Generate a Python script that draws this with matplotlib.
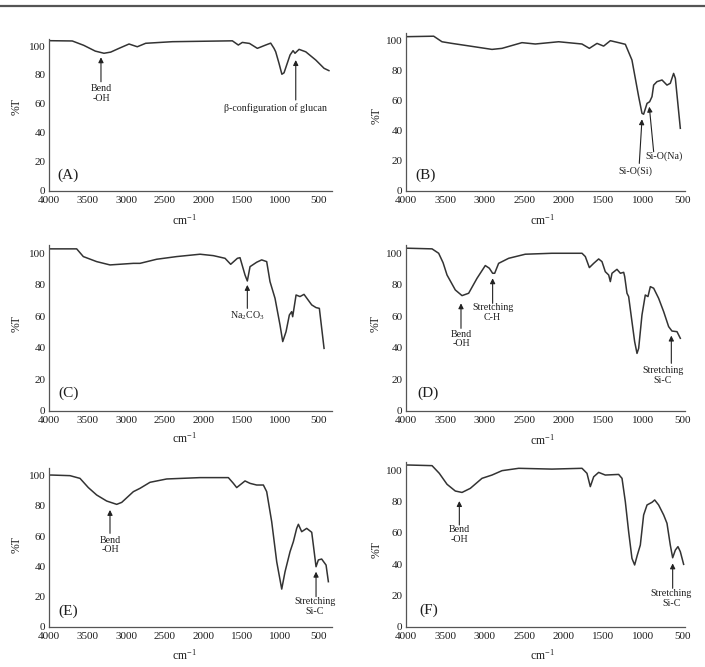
import matplotlib
matplotlib.use('Agg')
import matplotlib.pyplot as plt
from matplotlib.lines import Line2D

plt.rcParams['font.family'] = ['Liberation Serif', 'DejaVu Serif']
plt.rcParams['mathtext.fontset'] = 'custom'
plt.rcParams['mathtext.rm'] = 'Liberation Serif'
plt.rcParams['mathtext.it'] = 'Liberation Serif:italic'

# --- spectra (wavenumber cm-1, %T) ---
A_wn = [4000, 3698, 3550, 3400, 3287, 3200, 3092, 2962, 2855, 2746, 2400, 1622, 1545, 1493,
        1400, 1298, 1190, 1125, 1082, 1060, 1017, 980, 952, 874, 835, 810, 757, 670, 540, 433, 370]
A_T = [103.7, 103.5, 100.5, 96.5, 95, 95.8, 98.4, 101.4, 99.5, 101.9, 103, 103.6, 100.7, 102.5,
       101.8, 98.4, 100.7, 102, 98.4, 96, 88, 80.5, 81.5, 93.8, 96.8, 95, 97.7, 96, 90.3, 84.6, 83]

B_wn = [4000, 3975, 3649, 3544, 3417, 3200, 2910, 2783, 2530, 2361, 2065, 1770, 1676, 1579, 1495,
        1410, 1305, 1220, 1136, 1051, 1009, 988, 945, 912, 882, 861, 819, 755, 692, 650, 608, 586, 523]
B_T = [102.7, 102.7, 103, 99.3, 98.2, 96.5, 94.2, 94.9, 98.7, 97.8, 99.3, 97.8, 94.9, 98.2, 96.4,
       100, 98.7, 97.6, 87.1, 62.7, 51.6, 51, 58.2, 59.3, 62.7, 70.4, 72.7, 73.8, 70.4, 71.6, 78.2, 74.9, 41.6]

C_wn = [4000, 3978, 3641, 3555, 3382, 3209, 2906, 2820, 2604, 2344, 2041, 1869, 1717, 1644, 1557,
        1523, 1458, 1428, 1393, 1307, 1242, 1177, 1134, 1069, 1004, 969, 926, 883, 853, 840, 796,
        745, 693, 593, 537, 494, 433]
C_T = [102.8, 102.8, 102.8, 97.9, 94.7, 92.6, 93.6, 93.6, 96.2, 97.9, 99.4, 98.5, 96.8, 93, 96.8,
       97.2, 86.2, 82.4, 91.5, 94.3, 95.8, 94.7, 82, 71.4, 54.4, 43.9, 50.2, 60.8, 62.9, 59.7, 73.5,
       72.5, 73.9, 67.2, 65.5, 65, 39.6]

D_wn = [4000, 3975, 3670, 3586, 3530, 3480, 3375, 3290, 3206, 3100, 2995, 2944, 2902, 2876, 2826,
        2699, 2488, 2150, 1769, 1727, 1676, 1621, 1558, 1516, 1474, 1431, 1410, 1389, 1326, 1283,
        1241, 1228, 1199, 1178, 1136, 1102, 1072, 1051, 1009, 967, 933, 903, 861, 798, 734, 671,
        629, 565, 523]
D_T = [103.2, 103.2, 102.8, 100, 94, 86.2, 76.7, 73.1, 74.6, 84.1, 92.2, 90.5, 87.3, 87.3, 93.6,
       96.8, 99.4, 100, 100, 97.9, 90.9, 93.6, 96.4, 94.7, 88.3, 86.2, 82, 87.3, 89.8, 87.3,
       87.9, 85.2, 74.6, 72.5, 56.6, 43.9, 36.4, 39.6, 60.8, 73.5, 72.5, 78.8, 77.8, 71.4, 62.9, 53.4,
       50.6, 50.2, 46]

E_wn = [4000, 3965, 3728, 3598, 3490, 3382, 3252, 3122, 3057, 2906, 2820, 2690, 2474, 2041, 1674,
        1609, 1566, 1458, 1393, 1307, 1220, 1177, 1112, 1047, 982, 939, 874, 831, 788, 766, 723,
        658, 593, 572, 537, 507, 464, 407, 377]
E_T = [100.4, 100.4, 100, 98.2, 92.1, 87.2, 83.2, 81, 82.3, 89.4, 91.6, 95.6, 97.8, 98.7, 98.7,
       94.9, 92.1, 96.5, 94.9, 93.8, 93.8, 89.4, 69.5, 43, 24.9, 36.4, 49.7, 56.3, 65.1, 67.8, 62.9,
       65.1, 62.5, 54.1, 39.7, 44.2, 44.8, 40.8, 29.8]

F_wn = [4000, 3966, 3670, 3578, 3480, 3375, 3290, 3185, 3037, 2910, 2783, 2572, 2150, 1769, 1706,
        1664, 1621, 1558, 1474, 1305, 1262, 1220, 1178, 1136, 1102, 1068, 1030, 988, 945, 882, 848,
        798, 734, 692, 650, 620, 586, 553, 523, 481]
F_T = [103.2, 103.2, 102.8, 97.9, 90.9, 86.6, 85.7, 88.3, 94.7, 96.8, 99.6, 101.1, 100.6, 101.1, 97.9,
       89.4, 95.7, 98.5, 96.8, 97.2, 94.7, 79.8, 60.6, 43.6, 39.4, 45.7, 52.1, 71.3, 77.7, 79.4, 80.9,
       77.7, 71.3, 66, 52.1, 44, 48.9, 51.1, 47.9, 39.8]

x_ticks = [4000, 3500, 3000, 2500, 2000, 1500, 1000, 500]
y_ticks = [0, 20, 40, 60, 80, 100]
panel_names = ['(A)', '(B)', '(C)', '(D)', '(E)', '(F)']

# annotations: text, text pos, arrow tip, arrow tail
A_notes = [('Bend\n-OH', (3326, 67), (3326, 92.2), (3326, 75.3)),
           ('\u03b2-configuration of glucan', (1069, 57), (800, 90.3), (800, 62.7))]
B_notes = [('Si-O(Si)', (1094, 13.3), (1009, 47.6), (1043, 18.2)),
           ('Si-O(Na)', (734, 22.7), (916, 56), (861, 26))]
C_notes = [('Na$_2$CO$_3$', (1428, 60.4), (1428, 79.9), (1428, 65))]
D_notes = [('Bend\n-OH', (3303, 45.6), (3303, 68.2), (3303, 52.3)),
           ('Stretching\nC-H', (2902, 62.5), (2902, 84.1), (2902, 68.2)),
           ('Stretching\nSi-C', (747, 22.2), (637, 47.7), (637, 30.1))]
E_notes = [('Bend\n-OH', (3209, 54.1), (3209, 77.3), (3209, 61.8)),
           ('Stretching\nSi-C', (550, 13.2), (537, 36.4), (537, 19.9))]
F_notes = [('Bend\n-OH', (3324, 58.9), (3324, 80.2), (3324, 64.9)),
           ('Stretching\nSi-C', (637, 18.1), (620, 40.4), (620, 24.5))]

W, H = 705, 667
fig = plt.figure(figsize=(W / 100, H / 100), dpi=100)

# thin rule across the top of the page
fig.add_artist(Line2D([0, 1], [1 - 6 / H, 1 - 6 / H], color='#555555', lw=1.6))


def make_axes(left, right, top, bottom):
	# pixel box -> figure fraction
	return fig.add_axes([left / W, 1 - bottom / H, (right - left) / W, (bottom - top) / H])


def draw_panel(ax, wn, T, xmax, notes, name, name_pos, xlab_pos, ylab_pos):
	ax.plot(wn, T, color='#333333', lw=1.1)
	ax.set_xlim(4000, xmax)
	ax.set_ylim(0, 105)
	ax.set_xticks(x_ticks)
	ax.set_yticks(y_ticks)
	ax.tick_params(length=0, labelsize=8, colors='#1e1e1e')
	ax.tick_params(axis='x', pad=4)
	ax.tick_params(axis='y', pad=2.5)
	for s in ['top', 'right']:
		ax.spines[s].set_visible(False)
	for s in ['left', 'bottom']:
		ax.spines[s].set_color('#555555')
		ax.spines[s].set_linewidth(0.9)

	ax.set_xlabel('cm$^{-1}$', fontsize=8.5, color='#1e1e1e', va='center')
	ax.xaxis.set_label_coords(*xlab_pos)
	ax.set_ylabel('%T', fontsize=8.5, color='#1e1e1e', va='center')
	ax.yaxis.set_label_coords(*ylab_pos)

	ax.text(name_pos[0], name_pos[1], name, transform=ax.transAxes, fontsize=11,
		ha='center', va='center', color='#1e1e1e')

	for txt, tpos, tip, tail in notes:
		ax.annotate('', xy=tip, xytext=tail,
			arrowprops=dict(arrowstyle='-|>', color='#222222', lw=0.8,
				mutation_scale=7.5, shrinkA=0, shrinkB=0))
		ax.text(tpos[0], tpos[1], txt, fontsize=7.2, ha='center', va='center',
			color='#1e1e1e', linespacing=1.1)


axA = make_axes(49, 332, 38.8, 190.7)
axB = make_axes(406, 684.5, 33.2, 190.7)
axC = make_axes(49, 332, 245.4, 410.7)
axD = make_axes(406, 684.5, 245.4, 410.7)
axE = make_axes(49, 332, 468.1, 626.7)
axF = make_axes(406, 684.5, 462.2, 626.7)

draw_panel(axA, A_wn, A_T, 330, A_notes, panel_names[0], (0.067, 0.103), (0.48, -0.193), (-0.114, 0.553))
draw_panel(axB, B_wn, B_T, 470, B_notes, panel_names[1], (0.072, 0.10), (0.49, -0.186), (-0.104, 0.48))
draw_panel(axC, C_wn, C_T, 330, C_notes, panel_names[2], (0.068, 0.105), (0.48, -0.165), (-0.114, 0.53))
draw_panel(axD, D_wn, D_T, 470, D_notes, panel_names[3], (0.079, 0.105), (0.49, -0.177), (-0.108, 0.53))
draw_panel(axE, E_wn, E_T, 330, E_notes, panel_names[4], (0.068, 0.10), (0.48, -0.183), (-0.114, 0.515))
draw_panel(axF, F_wn, F_T, 470, F_notes, panel_names[5], (0.081, 0.097), (0.49, -0.176), (-0.104, 0.466))

fig.savefig('out.png', dpi=100, facecolor='white')
plt.close(fig)
